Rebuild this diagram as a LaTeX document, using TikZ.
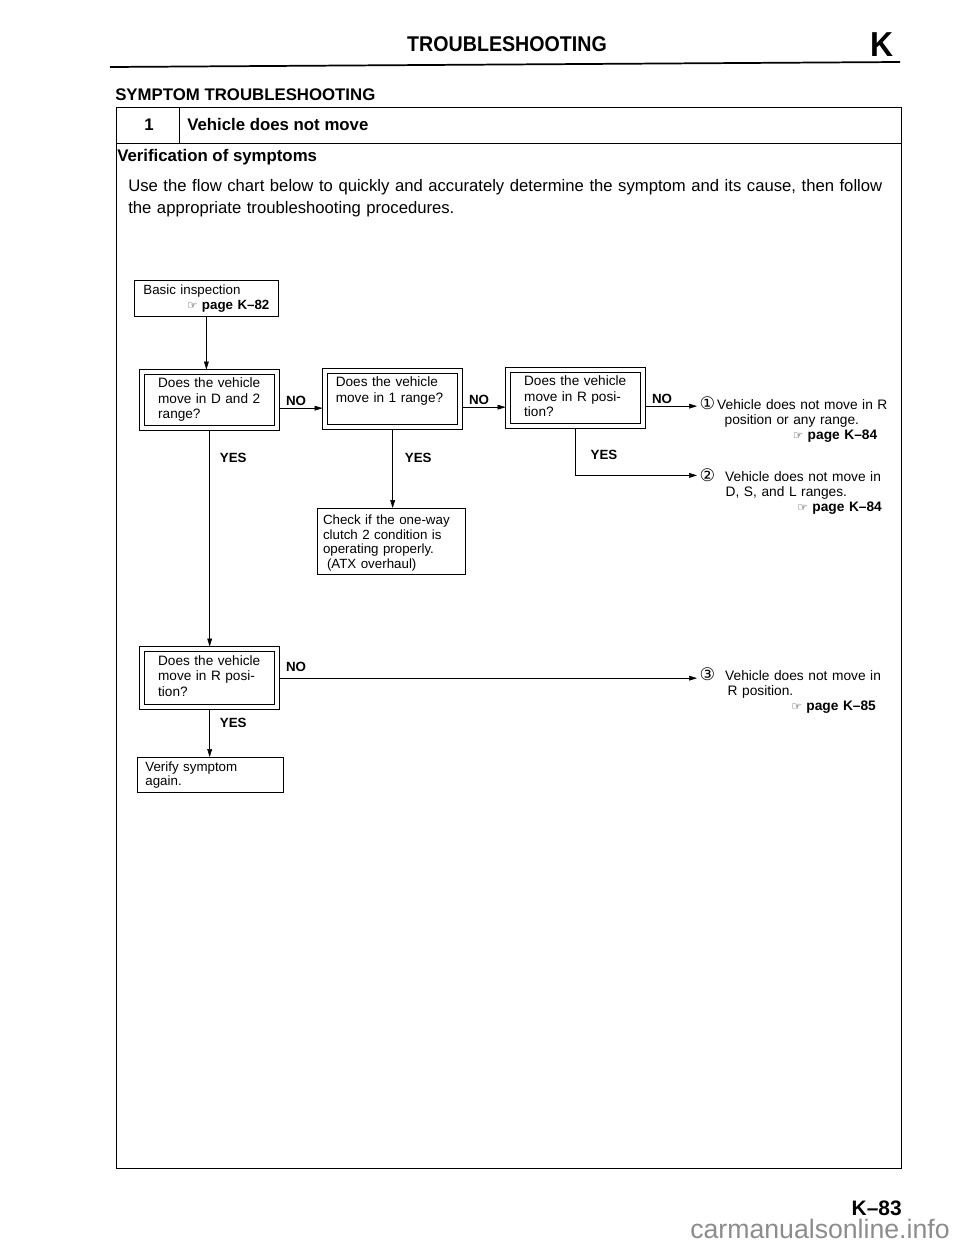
\documentclass[tikz,border=0pt]{standalone}
\usepackage{fontspec}
\setmainfont{Liberation Sans}
\newfontfamily\symfont{DejaVu Sans}
\newfontfamily\narrowfont[FakeStretch=0.92]{Liberation Sans}
\usetikzlibrary{arrows.meta}

\newcommand{\hand}{{\symfont\fontsize{8.5}{8.5}\selectfont ☞}}
\newcommand{\pagetag}[1]{\hand\ \textbf{page #1}}
\newcommand{\circnum}[1]{{\symfont\fontsize{13}{13}\selectfont #1}}

\begin{document}
\begin{tikzpicture}[x=0.75pt,y=-0.75pt,
>={Triangle[length=6pt,width=3.6pt]},
frame/.style={line width=0.7pt},
qbox/.style={
	rectangle,draw,double,double distance=3.2pt,line width=0.55pt,
	outer sep=2pt,inner xsep=12pt,inner ysep=0pt,
	text width=77.25pt,text height=11.5pt,text depth=30.5pt,
	align=left,anchor=north west,
	font=\fontsize{10.2}{11.7}\selectfont},
sbox/.style={
	rectangle,draw,line width=0.6pt,inner ysep=0pt,
	align=left,anchor=north west},
nolab/.style={anchor=south west,inner sep=0pt,xshift=4.5pt,yshift=2pt,
	font=\bfseries\fontsize{10}{12}\selectfont},
yeslab/.style={anchor=west,inner sep=0pt,
	font=\bfseries\fontsize{10}{12}\selectfont},
result/.style={anchor=base west,inner sep=0pt,outer sep=2pt,
	text width=200pt,align=left,
	font=\fontsize{10.3}{11.5}\selectfont},
]
\useasboundingbox (0,0) rectangle (960,1242);

% page heading
\node[anchor=base,inner sep=0pt,font=\narrowfont\bfseries\fontsize{16}{18}\selectfont] (head) at (507,51) {TROUBLESHOOTING};
\node[anchor=base east,inner sep=0pt,font=\narrowfont\bfseries\fontsize{26}{28}\selectfont] (sect) at (894,56) {K};
\draw[line width=1.3pt] (110,67) -- (900,62);
\node[anchor=base west,inner sep=0pt,font=\bfseries\fontsize{12.6}{15}\selectfont] (symp) at (115,100) {SYMPTOM TROUBLESHOOTING};

% frame
\draw[frame] (116,107) rectangle (901,1168);
\draw[frame] (116,143) -- (901,143);
\draw[frame] (179,107) -- (179,143);
\node[anchor=base,inner sep=0pt,font=\bfseries\fontsize{12.6}{15}\selectfont] (num) at (149,130) {1};
\node[anchor=base west,inner sep=0pt,font=\bfseries\fontsize{12.6}{15}\selectfont] (title) at (187,130) {Vehicle does not move};
\node[anchor=base west,inner sep=0pt,font=\bfseries\fontsize{12.6}{15}\selectfont] (verif) at (117,161) {Verification of symptoms};
\node[anchor=base west,inner sep=0pt,text width=600pt,align=left,font=\fontsize{12.5}{16.5}\selectfont] (intro) at (128,191)
{Use the flow chart below to quickly and accurately determine the symptom and its cause, then follow\\
the appropriate troubleshooting procedures.};

% flow chart
\node[sbox,inner xsep=6.75pt,text width=94.5pt,text height=10.5pt,text depth=16.5pt,
	font=\fontsize{10}{11.25}\selectfont] (basic) at (134,280)
{Basic inspection\\\makebox[\linewidth][r]{\pagetag{K–82}}};

\node[qbox] (q1) at (139.5,369.5) {Does the vehicle\\move in D and 2\\range?};
\node[qbox,inner xsep=8pt,text width=85.25pt] (q2) at (322.5,368.5) {Does the vehicle\\move in 1 range?};
\node[qbox] (q3) at (505.5,367.5) {Does the vehicle\\move in R posi-\\tion?};
\node[qbox,text height=12pt,text depth=31.5pt] (q4) at (139.5,646.5) {Does the vehicle\\move in R posi-\\tion?};

\node[sbox,anchor=north,inner xsep=4.5pt,text width=102pt,text height=12pt,text depth=37.5pt,
	font=\fontsize{10}{11}\selectfont] (check) at (391,508)
{Check if the one-way\\clutch 2 condition is\\operating properly.\\\hspace*{3pt}(ATX overhaul)};
\node[sbox,inner xsep=6pt,text width=97.5pt,text height=10.5pt,text depth=15.75pt,
	font=\fontsize{10}{10.5}\selectfont] (verify) at (137,757)
{Verify symptom\\again.};

\node[result] (res1) at (697,409)
{\circnum{①}\hspace{1.5pt}Vehicle does not move in R\\
\hspace*{18.75pt}position or any range.\\
\hspace*{70pt}\pagetag{K–84}};
\node[result] (res2) at (697,481)
{\circnum{②}\hspace{7.5pt}Vehicle does not move in\\
\hspace*{19.5pt}D, S, and L ranges.\\
\hspace*{73.5pt}\pagetag{K–84}};
\node[result] (res3) at (697,680.2)
{\circnum{③}\hspace{7.5pt}Vehicle does not move in\\
\hspace*{21pt}R position.\\
\hspace*{69pt}\pagetag{K–85}};

% connectors
\draw[->] (basic.south) -- (basic.south |- q1.north);
\draw[->] ([yshift=-6pt]q1.east) -- ([yshift=-6pt]q1.east -| q2.west)
	node[nolab,pos=0]{NO};
\draw[->] ([yshift=-6pt]q2.east) -- ([yshift=-6pt]q2.east -| q3.west)
	node[nolab,pos=0]{NO};
\draw[->] ([yshift=-6pt]q3.east) -- ([yshift=-6pt]q3.east -| res1.west)
	node[nolab,pos=0]{NO};
\draw[->] (q3.south) |- ([yshift=4.2pt]res2.base west)
	node[yeslab,pos=0,xshift=11pt,yshift=-19.5pt]{YES};
\draw[->] (q2.south) -- (q2.south |- check.north)
	node[yeslab,pos=0,xshift=9pt,yshift=-21pt]{YES};
\draw[->] (q1.south) -- (q1.south |- q4.north)
	node[yeslab,pos=0,xshift=7.5pt,yshift=-20pt]{YES};
\draw[->] (q4.east) -- (q4.east -| res3.west)
	node[nolab,pos=0,yshift=3pt]{NO};
\draw[->] (q4.south) -- (q4.south |- verify.north)
	node[yeslab,pos=0,xshift=7.5pt,yshift=-9.75pt]{YES};

% page number
\node[anchor=base east,inner sep=0pt,font=\bfseries\fontsize{15.7}{18}\selectfont] (pageno) at (902,1215) {K–83};
\node[anchor=base west,inner sep=0pt,text=black!45,font=\fontsize{20}{22}\selectfont] (mark) at (690,1238) {carmanualsonline.info};
\end{tikzpicture}
\end{document}
